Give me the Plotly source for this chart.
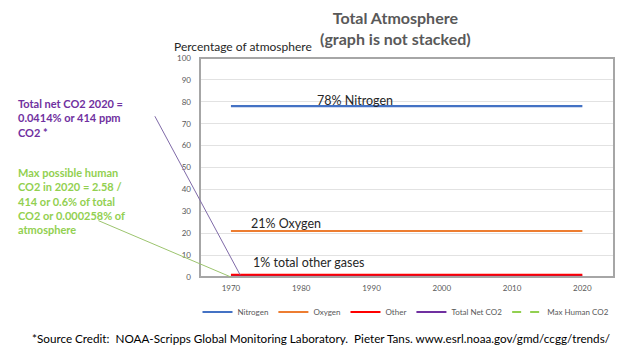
import plotly.graph_objects as go

# ---- data ----
years = [1970, 2020]
nitrogen = [78, 78]
oxygen = [21, 21]
other = [0.93, 0.93]
total_net_co2 = [0.0325, 0.0414]
max_human_co2 = [0.0, 0.000258]
x_ticks = [1970, 1980, 1990, 2000, 2010, 2020]
y_ticks = [0, 10, 20, 30, 40, 50, 60, 70, 80, 90, 100]

W, H = 624, 354
L, R, T, B = 200, 10, 58, 77
PW, PH = W - L - R, H - T - B


def px(x):
    return (x - L) / PW


def py(y):
    return (H - B - y) / PH


FONT = "Lato"

fig = go.Figure()
series = [
    ("Nitrogen", nitrogen, "#4472C4", "solid"),
    ("Oxygen", oxygen, "#ED7D31", "solid"),
    ("Other", other, "#FF0000", "solid"),
    ("Total Net CO2", total_net_co2, "#7030A0", "solid"),
    ("Max Human CO2", max_human_co2, "#92D050", "dash"),
]
for name, vals, col, dash in series:
    fig.add_trace(go.Scatter(x=years, y=vals, mode="lines", name=name,
                             line=dict(color=col, width=2.2, dash=dash)))

fig.update_layout(
    width=W, height=H,
    margin=dict(l=L, r=R, t=T, b=B, pad=0, autoexpand=False),
    paper_bgcolor="white", plot_bgcolor="white",
    font=dict(family=FONT, color="#595959"),
    showlegend=True,
    legend=dict(orientation="h", xref="container", yref="container",
                x=406 / W, xanchor="center", y=1 - 312 / H, yanchor="middle",
                font=dict(size=8, color="#595959"), itemwidth=30, tracegroupgap=0,
                bgcolor="rgba(0,0,0,0)"),
    xaxis=dict(range=[1965.6, 2024.5], tickvals=x_ticks, showgrid=False, zeroline=False,
               showline=False, ticks="", ticklabelstandoff=5, automargin=False,
               tickfont=dict(size=8, color="#595959")),
    yaxis=dict(range=[0, 100], tickvals=y_ticks, showgrid=True, gridcolor="#E2E2E2",
               gridwidth=1, zeroline=True, zerolinecolor="#D0D0D0", zerolinewidth=1,
               showline=False, ticks="", ticklabelstandoff=8, automargin=False,
               tickfont=dict(size=8, color="#595959")),
)

fig.add_shape(type="rect", xref="paper", yref="paper", x0=0, x1=1, y0=0, y1=1,
              line=dict(color="#A6A6A6", width=2), layer="above")

ann = []
ann.append(dict(xref="paper", yref="paper", x=px(395), y=py(28), xanchor="center", yanchor="middle",
                text="<b>Total Atmosphere<br>(graph is not stacked)</b>", showarrow=False,
                font=dict(size=16, color="#595959", family=FONT)))
ann.append(dict(xref="paper", yref="paper", x=px(172), y=py(46), xanchor="left", yanchor="middle",
                text="Percentage of atmosphere", showarrow=False,
                font=dict(size=12, color="#262626", family=FONT)))
ann.append(dict(xref="paper", yref="paper", x=px(16), y=py(118), xanchor="left", yanchor="middle",
                align="left",
                text="<b>Total net CO2 2020 =<br>0.0414% or 414 ppm<br>CO2 *</b>", showarrow=False,
                font=dict(size=11, color="#7030A0", family=FONT)))
ann.append(dict(xref="paper", yref="paper", x=px(16), y=py(201), xanchor="left", yanchor="middle",
                align="left",
                text="<b>Max possible human<br>CO2 in 2020 = 2.58 /<br>414 or 0.6% of total<br>CO2 or 0.000258% of<br>atmosphere</b>",
                showarrow=False, font=dict(size=11, color="#92D050", family=FONT)))
ann.append(dict(xref="paper", yref="paper", x=px(321), y=py(338), xanchor="center", yanchor="middle",
                text="*Source Credit:  NOAA-Scripps Global Monitoring Laboratory.  Pieter Tans. www.esrl.noaa.gov/gmd/ccgg/trends/",
                showarrow=False, font=dict(size=11.7, color="#000000", family=FONT)))
# in-chart labels
ann.append(dict(x=1987.7, y=80.5, text="78% Nitrogen", showarrow=False, xanchor="center", yanchor="middle",
                font=dict(size=12.5, color="#262626", family=FONT)))
ann.append(dict(x=1977.8, y=24.5, text="21% Oxygen", showarrow=False, xanchor="center", yanchor="middle",
                font=dict(size=12.5, color="#262626", family=FONT)))
ann.append(dict(x=1981.0, y=6.4, text="1% total other gases", showarrow=False, xanchor="center", yanchor="middle",
                font=dict(size=12.5, color="#262626", family=FONT)))
# pointer lines
ann.append(dict(x=1971.3, y=total_net_co2[0] + 1.0, text="", showarrow=True, arrowhead=0,
                arrowcolor="#7F6AA8", arrowwidth=1, ax=-86, ay=-160, axref="pixel", ayref="pixel"))
ann.append(dict(x=years[0], y=max_human_co2[0], text="", showarrow=True, arrowhead=0,
                arrowcolor="#9CC46E", arrowwidth=1, ax=-134, ay=-57, axref="pixel", ayref="pixel"))
fig.update_layout(annotations=ann)

fig.write_html("out.html")
